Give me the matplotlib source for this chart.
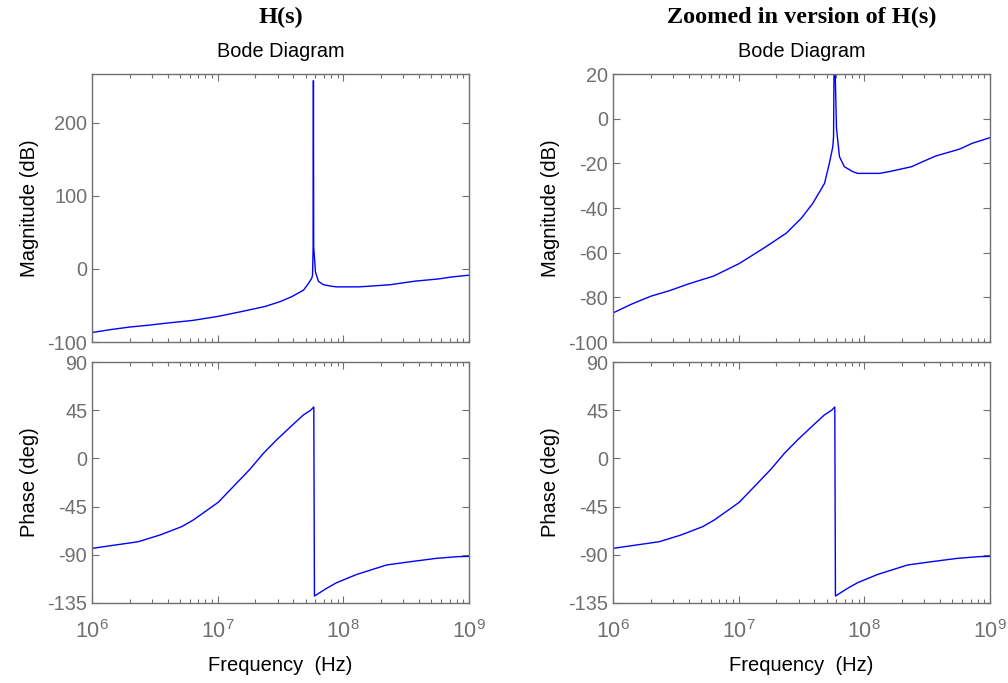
import numpy as np
import matplotlib
matplotlib.use("Agg")
import matplotlib.pyplot as plt
from matplotlib.ticker import LogLocator, NullFormatter, FixedLocator

# ---- data ----
mag_freq_hz = [1.0e6, 1.41e6, 2.0e6, 2.82e6, 3.98e6, 6.31e6, 1.0e7, 1.12e7, 1.58e7,
               2.39e7, 3.16e7, 3.89e7, 4.82e7, 5.27e7, 5.61e7, 5.69e7, 5.75e7,
               5.78e7, 5.81e7, 6.00e7, 6.14e7, 6.34e7, 6.93e7, 8.07e7, 8.85e7,
               1.32e8, 1.58e8, 2.38e8, 2.90e8, 3.71e8, 5.68e8, 7.24e8, 1.0e9]
mag_db = [-87, -83, -79.5, -77, -74, -70.5, -65, -63.3, -58,
          -51.3, -44.5, -37.9, -29, -20, -12.6, -8, 30,
          258, 30, -4, -9.6, -17, -21.5, -23.7, -24.5,
          -24.5, -23.7, -21.5, -19.3, -16.7, -13.7, -11, -8.5]

ph_freq_hz = [1.0e6, 2.33e6, 3.48e6, 5.18e6, 6.40e6, 1.01e7, 1.33e7, 1.81e7,
              2.31e7, 2.94e7, 3.76e7, 4.80e7, 5.50e7, 5.82e7, 5.89e7, 7.36e7,
              8.85e7, 1.28e8, 2.21e8, 3.39e8, 5.52e8, 8.20e8, 1.0e9]
ph_deg = [-84, -77.8, -71.5, -63.7, -57.5, -41, -26.4, -10,
          4.7, 17.2, 29, 40.5, 45, 48, -128.5, -121.3,
          -116, -108.3, -99.5, -96.5, -93.3, -91.7, -91.5]

titles = ["H(s)", "Zoomed in version of H(s)"]
mag_limits = [(-100, 267), (-100, 20)]
mag_ticks = [[-100, 0, 100, 200], [-100, -80, -60, -40, -20, 0, 20]]
ph_ticks = [-135, -90, -45, 0, 45, 90]
ph_limits = (-135, 90)
x_limits = (1e6, 1e9)

# ---- styling ----
plt.rcParams['font.family'] = ['Liberation Sans', 'DejaVu Sans']
plt.rcParams['axes.unicode_minus'] = False
plt.rcParams['mathtext.fontset'] = 'custom'
plt.rcParams['mathtext.rm'] = 'Liberation Sans'
gray = '#6f6f6f'
line_color = '#0000ff'

fig = plt.figure(figsize=(10.08, 6.83), dpi=100)

lefts = [92 / 1008, 613 / 1008]
width = 377 / 1008
top_bottom = 1 - 342 / 683
top_height = 268 / 683
bot_bottom = 1 - 603 / 683
bot_height = 241 / 683


def style_axes(ax):
    ax.set_xscale('log')
    ax.set_xlim(*x_limits)
    for s in ax.spines.values():
        s.set_color(gray)
        s.set_linewidth(1.0)
    ax.tick_params(which='both', direction='in', top=True, right=True,
                   colors=gray, labelsize=14.3)
    ax.tick_params(which='major', length=5, width=0.8)
    ax.tick_params(which='minor', length=3, width=0.8)
    ax.xaxis.set_major_locator(LogLocator(base=10, numticks=10))
    ax.xaxis.set_minor_locator(LogLocator(base=10, subs=np.arange(2, 10), numticks=20))
    ax.xaxis.set_minor_formatter(NullFormatter())


for i in range(2):
    axm = fig.add_axes([lefts[i], top_bottom, width, top_height])
    axp = fig.add_axes([lefts[i], bot_bottom, width, bot_height])

    axm.plot(mag_freq_hz, mag_db, color=line_color, lw=1.0)
    style_axes(axm)
    axm.set_ylim(*mag_limits[i])
    axm.yaxis.set_major_locator(FixedLocator(mag_ticks[i]))
    axm.tick_params(axis='x', labelbottom=False)
    axm.set_ylabel('Magnitude (dB)', fontsize=14.5, color='black', labelpad=6)
    axm.set_title('Bode Diagram', fontsize=14.3, color='black', pad=12)

    axp.plot(ph_freq_hz, ph_deg, color=line_color, lw=1.0)
    style_axes(axp)
    axp.set_ylim(*ph_limits)
    axp.yaxis.set_major_locator(FixedLocator(ph_ticks))
    axp.set_ylabel('Phase (deg)', fontsize=14.5, color='black', labelpad=6)
    axp.set_xlabel('Frequency  (Hz)', fontsize=14.5, color='black', labelpad=10)
    axp.tick_params(axis='x', pad=12, labelsize=15.5)

    cx = lefts[i] + width / 2
    fig.text(cx, 1 - 17 / 683, titles[i], ha='center', va='center',
             fontsize=17.5, fontweight='bold', family='Liberation Serif')

fig.savefig('out.png', dpi=100)
